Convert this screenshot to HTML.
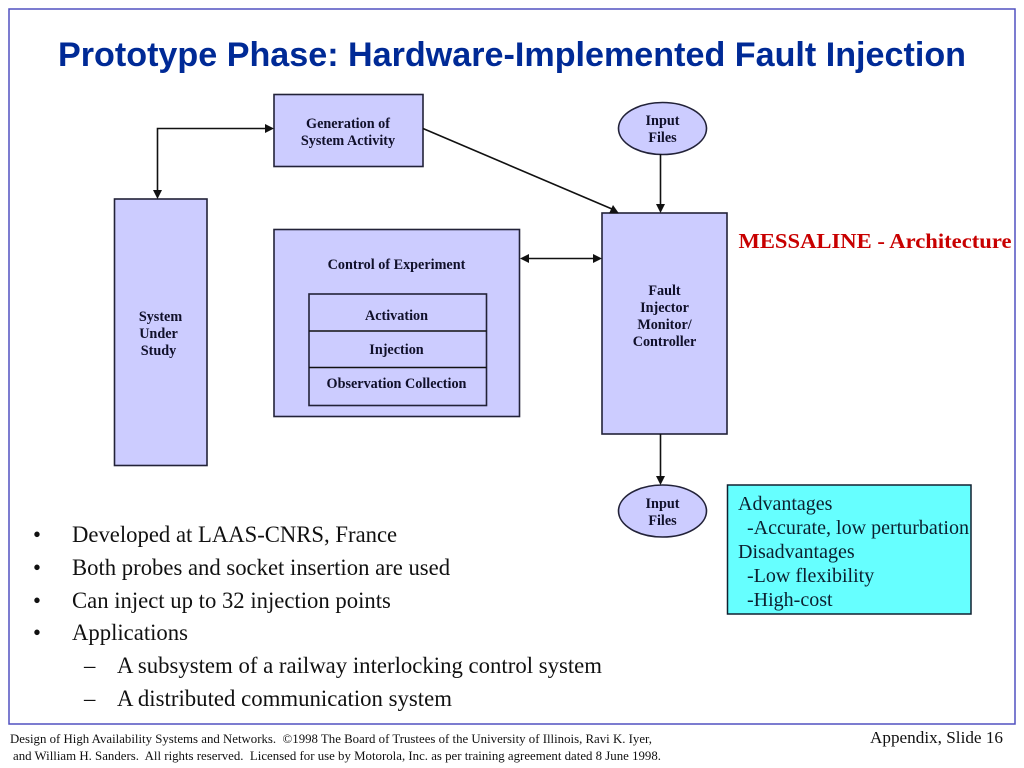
<!DOCTYPE html>
<html>
<head>
<meta charset="utf-8">
<style>
html,body{margin:0;padding:0;background:#fff;width:1024px;height:768px;overflow:hidden}
svg{display:block}
.b{font-family:"Liberation Serif",serif;font-weight:bold;font-size:14.2px;fill:#10102a;text-anchor:middle}
.t{font-family:"Liberation Serif",serif;font-size:22.7px;fill:#111}
.a{font-family:"Liberation Serif",serif;font-size:20px;fill:#0c2030}
.f{font-family:"Liberation Serif",serif;font-size:12.5px;fill:#111}
.box{fill:#ccccff;stroke:#222238;stroke-width:1.6}
.ln{stroke:#111;stroke-width:1.6;fill:none}
.ah{fill:#111;stroke:none}
</style>
</head>
<body>
<svg width="1024" height="768" viewBox="0 0 1024 768" xmlns="http://www.w3.org/2000/svg">
<rect x="9" y="9" width="1006" height="715" fill="#fff" stroke="#5050c0" stroke-width="1.5"/>
<text x="58" y="66" font-family="Liberation Sans, sans-serif" font-weight="bold" font-size="34.500px" fill="#002a96" textLength="908" lengthAdjust="spacingAndGlyphs">Prototype Phase: Hardware-Implemented Fault Injection</text>

<rect class="box" x="274" y="94.500" width="149" height="72"/>
<text class="b" x="348" y="128">Generation of</text>
<text class="b" x="348" y="145">System Activity</text>

<rect class="box" x="114.500" y="199" width="92.500" height="266.500"/>
<text class="b" x="160.500" y="321">System</text>
<text class="b" x="158.500" y="338">Under</text>
<text class="b" x="158.500" y="355">Study</text>

<rect class="box" x="274" y="229.500" width="245.500" height="187"/>
<text class="b" x="396.500" y="269">Control of Experiment</text>
<rect class="box" x="309" y="294" width="177.500" height="111.500"/>
<line class="ln" x1="309" y1="331" x2="486.500" y2="331"/>
<line class="ln" x1="309" y1="367.500" x2="486.500" y2="367.500"/>
<text class="b" x="396.500" y="320">Activation</text>
<text class="b" x="396.500" y="354">Injection</text>
<text class="b" x="396.500" y="388">Observation Collection</text>

<rect class="box" x="602" y="213" width="125" height="221"/>
<text class="b" x="664.500" y="295">Fault</text>
<text class="b" x="664.500" y="312">Injector</text>
<text class="b" x="664.500" y="329">Monitor/</text>
<text class="b" x="664.500" y="346">Controller</text>

<ellipse class="box" cx="662.500" cy="128.500" rx="44" ry="26"/>
<text class="b" x="662.500" y="125">Input</text>
<text class="b" x="662.500" y="142">Files</text>
<ellipse class="box" cx="662.500" cy="511" rx="44" ry="26"/>
<text class="b" x="662.500" y="508">Input</text>
<text class="b" x="662.500" y="525">Files</text>

<!-- connectors -->
<polyline class="ln" points="265,128.500 157.500,128.500 157.500,191"/>
<polygon class="ah" points="274,128.500 265,124 265,133"/>
<polygon class="ah" points="157.500,199 153,190 162,190"/>
<line class="ln" x1="423" y1="128.500" x2="612" y2="209"/>
<polygon class="ah" points="619,213.500 609,213.500 613,205"/>
<line class="ln" x1="660.500" y1="154" x2="660.500" y2="205"/>
<polygon class="ah" points="660.500,213 656,204 665,204"/>
<line class="ln" x1="528" y1="258.500" x2="594" y2="258.500"/>
<polygon class="ah" points="520,258.500 529,254 529,263"/>
<polygon class="ah" points="602,258.500 593,254 593,263"/>
<line class="ln" x1="660.500" y1="434" x2="660.500" y2="477"/>
<polygon class="ah" points="660.500,485 656,476 665,476"/>

<text x="738.500" y="248" font-family="Liberation Serif, serif" font-weight="bold" font-size="21.500px" fill="#c80000" textLength="273" lengthAdjust="spacingAndGlyphs">MESSALINE - Architecture</text>

<rect x="727.500" y="485" width="243.500" height="129" fill="#66ffff" stroke="#102030" stroke-width="1.500"/>
<text class="a" x="738" y="510">Advantages</text>
<text class="a" x="747" y="534" textLength="222" lengthAdjust="spacingAndGlyphs">-Accurate, low perturbation</text>
<text class="a" x="738" y="558">Disadvantages</text>
<text class="a" x="747" y="582">-Low flexibility</text>
<text class="a" x="747" y="606">-High-cost</text>

<!-- bullets -->
<text class="t" x="33" y="542">•</text>
<text class="t" x="72" y="542">Developed at LAAS-CNRS, France</text>
<text class="t" x="33" y="575">•</text>
<text class="t" x="72" y="575">Both probes and socket insertion are used</text>
<text class="t" x="33" y="608">•</text>
<text class="t" x="72" y="608">Can inject up to 32 injection points</text>
<text class="t" x="33" y="640">•</text>
<text class="t" x="72" y="640">Applications</text>
<text class="t" x="84" y="673">–</text>
<text class="t" x="117" y="673" textLength="485" lengthAdjust="spacingAndGlyphs">A subsystem of a railway interlocking control system</text>
<text class="t" x="84" y="706">–</text>
<text class="t" x="117" y="706" textLength="335" lengthAdjust="spacingAndGlyphs">A distributed communication system</text>

<!-- footer -->
<text class="f" x="10" y="743" xml:space="preserve" textLength="642" lengthAdjust="spacingAndGlyphs">Design of High Availability Systems and Networks.  ©1998 The Board of Trustees of the University of Illinois, Ravi K. Iyer,</text>
<text class="f" x="13" y="760" xml:space="preserve" textLength="648" lengthAdjust="spacingAndGlyphs">and William H. Sanders.  All rights reserved.  Licensed for use by Motorola, Inc. as per training agreement dated 8 June 1998.</text>
<text x="870" y="743" font-family="Liberation Serif, serif" font-size="16.500px" fill="#111" textLength="133" lengthAdjust="spacingAndGlyphs">Appendix, Slide 16</text>
</svg>
</body>
</html>
